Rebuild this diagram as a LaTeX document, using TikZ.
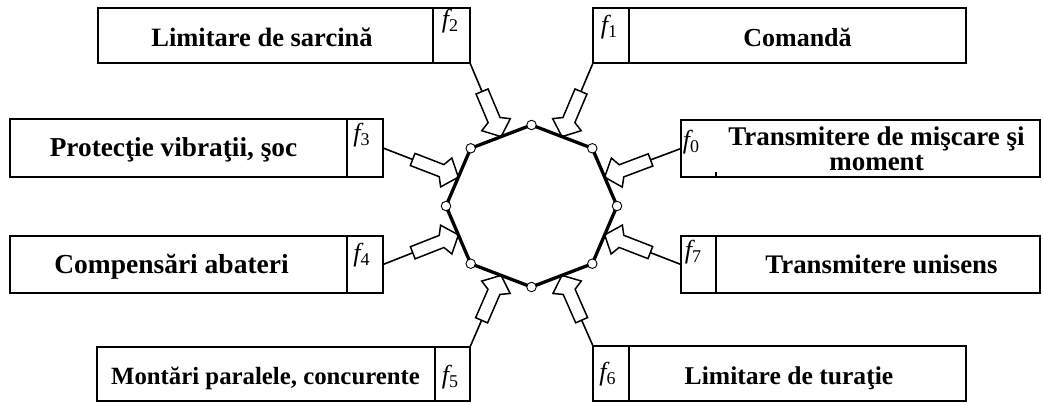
\documentclass[tikz,border=0pt]{standalone}
\usepackage{fontspec}
\setmainfont{Liberation Serif}
\usetikzlibrary{calc}
\newcommand\fl[1]{{\itshape f}\raisebox{-4pt}{\fontsize{18}{18}\selectfont #1}}
\newcommand\fs[1]{\fontsize{#1}{24}\selectfont}
\newcommand\blockarr[2]{%
  \path let \p1=($(#1)-(#2)$), \n1={atan2(\y1,\x1)} in \pgfextra{\xdef\barang{\n1}};
  \draw[conn] (#1) -- (#2);
  \begin{scope}[shift={(#2)}, rotate=\barang]
    \draw[arrbody] (49pt,6.5pt) -- (18pt,6.5pt) -- (13pt,15.5pt) -- (0pt,0pt) -- (13pt,-15.5pt) -- (18pt,-6.5pt) -- (49pt,-6.5pt) -- cycle;
  \end{scope}}
\begin{document}
\begin{tikzpicture}[x=1pt,y=-1pt,
  box/.style={draw, line width=2pt, inner sep=0pt, outer sep=0pt},
  txt/.style={inner sep=0pt, font=\bfseries\fontsize{26.5}{24}\selectfont, anchor=base},
  flab/.style={inner sep=0pt, font=\fontsize{26}{26}\selectfont},
  conn/.style={line width=1.6pt},
  arrbody/.style={draw, fill=white, line width=1.5pt, line join=miter},
  edge/.style={line width=3.3pt},
  vtx/.style={circle, draw, fill=white, line width=0.9pt, minimum size=9.5pt, inner sep=0pt}]
\useasboundingbox (0,0) rectangle (1043,403);
% boxes
\node[box, minimum width=335pt, minimum height=54.5pt] (t2) at (265.5,35.75) {};
\node[box, minimum width=37pt, minimum height=54.5pt] (f2) at (451.5,35.75) {};
\node[box, minimum width=36pt, minimum height=54.5pt] (f1) at (611,35.75) {};
\node[box, minimum width=337pt, minimum height=54.5pt] (t1) at (797.5,35.75) {};
\node[box, minimum width=337pt, minimum height=58pt] (t3) at (178.5,148) {};
\node[box, minimum width=36pt, minimum height=58pt] (f3) at (365,148) {};
\node[box, minimum width=359pt, minimum height=57pt] (b0) at (860.5,148.5) {};
\node[box, minimum width=337pt, minimum height=57pt] (t4) at (178.5,264.5) {};
\node[box, minimum width=36pt, minimum height=57pt] (f4) at (365,264.5) {};
\node[box, minimum width=35pt, minimum height=57pt] (f7) at (698.5,264.5) {};
\node[box, minimum width=324pt, minimum height=57pt] (t7) at (878,264.5) {};
\node[box, minimum width=338pt, minimum height=54pt] (t5) at (266,374) {};
\node[box, minimum width=35pt, minimum height=54pt] (f5) at (452.5,374) {};
\node[box, minimum width=36pt, minimum height=55pt] (f6) at (611,373.5) {};
\node[box, minimum width=337pt, minimum height=55pt] (t6) at (797.5,373.5) {};
\draw[line width=2pt] ($(b0.south west)+(35,0)$) -- ++(0,-5);
% texts
\node[txt] (x2) at (262,46.7) {\fs{26.5}Limitare de sarcină};
\node[txt] (x1) at (797.5,46.7) {\fs{26}Comandă};
\node[txt] (x3) at (173.5,156.7) {\fs{27.3}Protecţie vibraţii, şoc};
\node[txt, anchor=north, align=center, font=\bfseries\fontsize{27}{25}\selectfont] (x0) at (876.5,126.3) {Transmitere de mişcare şi\\moment};
\node[txt] (x4) at (171.5,273.3) {\fs{27.5}Compensări abateri};
\node[txt] (x7) at (881.5,273.3) {\fs{26.8}Transmitere unisens};
\node[txt] (x5) at (265.5,384) {\fs{24.8}Montări paralele, concurente};
\node[txt] (x6) at (789,384.3) {\fs{25.6}Limitare de turaţie};
% f labels
\node[flab] (l2) at (450,21.5) {\fl{2}};
\node[flab] (l1) at (609,27) {\fl{1}};
\node[flab] (l3) at (361.5,135.5) {\fl{3}};
\node[flab] (l0) at (691,141.7) {\fl{0}};
\node[flab] (l4) at (361.5,255.5) {\fl{4}};
\node[flab] (l7) at (693,252) {\fl{7}};
\node[flab] (l5) at (450,377) {\fl{5}};
\node[flab] (l6) at (607.5,374) {\fl{6}};
% octagon vertices
\coordinate (v0) at (531.5,125);
\coordinate (v1) at (592.3,148.3);
\coordinate (v2) at (617,206);
\coordinate (v3) at (592.3,263.7);
\coordinate (v4) at (531.5,287);
\coordinate (v5) at (470.7,263.7);
\coordinate (v6) at (446,206);
\coordinate (v7) at (470.7,148.3);
\coordinate (m1) at ($(v0)!0.5!(v1)$);
\coordinate (m0) at ($(v1)!0.5!(v2)$);
\coordinate (m7) at ($(v2)!0.5!(v3)$);
\coordinate (m6) at ($(v3)!0.5!(v4)$);
\coordinate (m5) at ($(v4)!0.5!(v5)$);
\coordinate (m4) at ($(v5)!0.5!(v6)$);
\coordinate (m3) at ($(v6)!0.5!(v7)$);
\coordinate (m2) at ($(v7)!0.5!(v0)$);
% arrows
\blockarr{f2.south east}{m2}
\blockarr{f1.south west}{m1}
\blockarr{f3.east}{m3}
\blockarr{b0.west}{m0}
\blockarr{f4.east}{m4}
\blockarr{f7.west}{m7}
\blockarr{f5.north east}{m5}
\blockarr{f6.north west}{m6}
% octagon
\draw[edge] (v0) -- (v1) -- (v2) -- (v3) -- (v4) -- (v5) -- (v6) -- (v7) -- cycle;
\foreach \i in {0,...,7} { \node[vtx] (c\i) at (v\i) {}; }
\end{tikzpicture}
\end{document}
